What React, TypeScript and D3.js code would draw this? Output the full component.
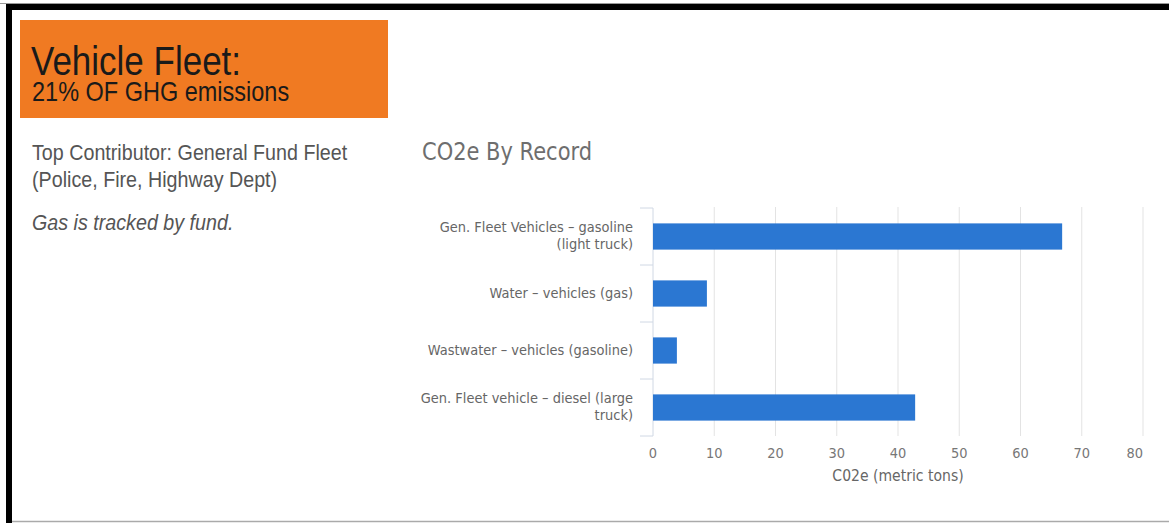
import React from "react";
import * as d3 from "d3";

const categories = [
  "Gen. Fleet Vehicles – gasoline (light truck)",
  "Water – vehicles (gas)",
  "Wastwater – vehicles (gasoline)",
  "Gen. Fleet vehicle – diesel (large truck)",
];
const categoryLines = [
  ["Gen. Fleet Vehicles – gasoline", "(light truck)"],
  ["Water – vehicles (gas)"],
  ["Wastwater – vehicles (gasoline)"],
  ["Gen. Fleet vehicle – diesel (large", "truck)"],
];
const values = [66.8, 8.8, 3.9, 42.8];
const xTicks = [0, 10, 20, 30, 40, 50, 60, 70, 80];

const chartTitle = "CO2e By Record";
const xAxisTitle = "C02e (metric tons)";
const headline = "Vehicle Fleet:";
const subHeadline = "21% OF GHG emissions";
const noteLine1 = "Top Contributor: General Fund Fleet";
const noteLine2 = "(Police, Fire, Highway Dept)";
const noteItalic = "Gas is tracked by fund.";

const W = 1169;
const H = 523;
const SY = 1.15; // vertical stretch of text in the reference

function T({ x, y, children, size, fill, family, anchor = "start", italic = false, weight = "normal", sy = SY }: any) {
  return (
    <text
      transform={`translate(${x},${y}) scale(1,${sy})`}
      fontSize={size}
      fill={fill}
      fontFamily={family}
      textAnchor={anchor}
      fontStyle={italic ? "italic" : "normal"}
      fontWeight={weight}
    >
      {children}
    </text>
  );
}

export default function App() {
  const x = d3.scaleLinear().domain([0, 80]).range([653, 1143]);
  const y = d3.scaleBand<string>().domain(categories).range([208, 436]).padding(0);
  const barH = y.bandwidth() * 0.46;
  const sans = "'Liberation Sans', Arial, sans-serif";
  const dv = "'DejaVu Sans', sans-serif";
  const bandEdges = [...categories.map((c) => y(c) as number), 436];

  return (
    <div style={{ position: "absolute", left: 0, top: 0 }}>
      <svg width={W} height={H} style={{ display: "block", background: "#fff" }}>
        {/* frame */}
        <rect x={0} y={0} width={W} height={H} fill="#fff" />
        <line x1={0} x2={W} y1={3.5} y2={3.5} stroke="#999" strokeWidth={1} />
        <rect x={6} y={4} width={W - 6} height={6} fill="#000" />
        <rect x={6} y={4} width={6} height={H - 4} fill="#000" />
        <line x1={12} x2={W} y1={521.5} y2={521.5} stroke="#aaa" strokeWidth={1.5} />

        {/* orange header */}
        <rect x={20} y={20} width={368} height={98} fill="#F07A22" />
        <T x={31} y={75} size={35} fill="#1a1a1a" family={sans}>{headline}</T>
        <T x={32} y={101} size={23.5} fill="#1a1a1a" family={sans}>{subHeadline}</T>

        {/* notes */}
        <T x={32} y={160} size={19.7} fill="#555" family={sans}>{noteLine1}</T>
        <T x={32} y={187} size={19.7} fill="#555" family={sans}>{noteLine2}</T>
        <T x={32} y={230} size={19.7} fill="#555" family={sans} italic>{noteItalic}</T>

        {/* chart title */}
        <T x={422} y={160} size={21} fill="#6e6e6e" family={dv}>{chartTitle}</T>

        {/* gridlines */}
        {xTicks.slice(1).map((t) => (
          <line key={t} x1={x(t)} x2={x(t)} y1={207} y2={436} stroke="#e3e3e3" strokeWidth={1} />
        ))}

        {/* y axis line and ticks */}
        <line x1={653} x2={653} y1={208} y2={436} stroke="#d0d8e4" strokeWidth={1} />
        {bandEdges.map((e, i) => (
          <line key={i} x1={640} x2={653} y1={e} y2={e} stroke="#d0d8e4" strokeWidth={1} />
        ))}

        {/* bars */}
        {categories.map((c, i) => {
          const cy = (y(c) as number) + y.bandwidth() / 2;
          return (
            <rect
              key={c}
              x={x(0)}
              y={cy - barH / 2}
              width={x(values[i]) - x(0)}
              height={barH}
              fill="#2B77D2"
            />
          );
        })}

        {/* category labels */}
        {categories.map((c, i) => {
          const cy = (y(c) as number) + y.bandwidth() / 2;
          const lines = categoryLines[i];
          const lh = 16.7;
          const start = cy + 4 - ((lines.length - 1) * lh) / 2;
          return lines.map((ln, j) => (
            <T key={c + j} x={633} y={start + j * lh} size={13} fill="#666" family={dv} anchor="end">
              {ln}
            </T>
          ));
        })}

        {/* x tick labels */}
        {xTicks.map((t) => {
          const label = String(t);
          const halfW = (label.length * 0.636 * 13) / 2;
          const px = Math.min(x(t), 1143 - halfW);
          return (
            <T key={t} x={px} y={458} size={13} fill="#777" family={dv} anchor="middle">
              {label}
            </T>
          );
        })}

        {/* x axis title */}
        <T x={898} y={481} size={14} fill="#666" family={dv} anchor="middle">{xAxisTitle}</T>
      </svg>
    </div>
  );
}
